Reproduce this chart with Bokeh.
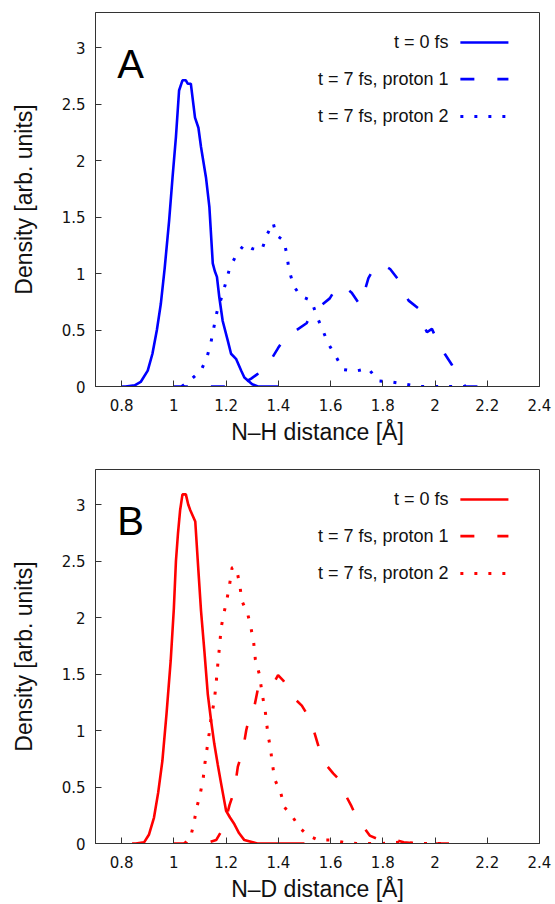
from bokeh.plotting import figure
from bokeh.models import Range1d, FixedTicker, CustomJSTickFormatter
from bokeh.layouts import column
from bokeh.core.properties import value
from bokeh.embed import file_html
from bokeh.resources import INLINE

# ---------------- data ----------------
x_ticks = [0.8, 1.0, 1.2, 1.4, 1.6, 1.8, 2.0, 2.2, 2.4]
x_tick_labels = ["0.8", "1", "1.2", "1.4", "1.6", "1.8", "2", "2.2", "2.4"]
y_ticks = [0, 0.5, 1, 1.5, 2, 2.5, 3]
y_tick_labels = ["0", "0.5", "1", "1.5", "2", "2.5", "3"]

series_labels = ["t = 0 fs", "t = 7 fs, proton 1", "t = 7 fs, proton 2"]

# Panel A: N-H
h0_x = [0.80, 0.815, 0.85, 0.873, 0.90, 0.918, 0.935, 0.95, 0.965, 0.982,
        0.995, 1.008, 1.02, 1.033, 1.046, 1.053, 1.065, 1.081, 1.094, 1.104,
        1.123, 1.136, 1.149, 1.157, 1.165, 1.174, 1.187, 1.206, 1.219, 1.238,
        1.258, 1.27, 1.30, 1.322, 1.36, 1.40]
h0_y = [0, 0, 0.01, 0.04, 0.14, 0.29, 0.50, 0.73, 1.05, 1.47,
        1.85, 2.21, 2.62, 2.71, 2.71, 2.68, 2.68, 2.38, 2.29, 2.12,
        1.85, 1.59, 1.09, 1.02, 0.97, 0.79, 0.58, 0.41, 0.29, 0.245,
        0.14, 0.08, 0.02, 0, 0, 0]

h1_x = [1.00, 1.065, 1.16, 1.22, 1.26, 1.296, 1.32, 1.347, 1.399, 1.431,
        1.47, 1.508, 1.533, 1.565, 1.597, 1.623, 1.65, 1.681, 1.713, 1.73,
        1.745, 1.77, 1.80, 1.828, 1.858, 1.88, 1.899, 1.937, 1.955, 1.969,
        1.988, 2.01, 2.037, 2.065, 2.09, 2.117, 2.174]
h1_y = [0, 0, 0, 0, 0.02, 0.07, 0.11, 0.14, 0.34, 0.45,
        0.50, 0.56, 0.66, 0.72, 0.78, 0.88, 0.89, 0.83, 0.72, 0.84,
        0.96, 1.06, 1.08, 1.04, 0.95, 0.84, 0.76, 0.69, 0.55, 0.48,
        0.51, 0.40, 0.29, 0.19, 0.07, 0, 0]

h2_x = [1.03, 1.06, 1.104, 1.127, 1.142, 1.153, 1.165, 1.183, 1.199, 1.214,
        1.236, 1.27, 1.30, 1.337, 1.356, 1.38, 1.392, 1.422, 1.433, 1.441,
        1.459, 1.485, 1.527, 1.546, 1.568, 1.591, 1.619, 1.649, 1.694, 1.745,
        1.781, 1.832, 1.888, 1.94, 2.0, 2.06, 2.12]
h2_y = [0, 0.05, 0.14, 0.26, 0.39, 0.52, 0.66, 0.79, 0.92, 1.05,
        1.15, 1.26, 1.22, 1.21, 1.34, 1.45, 1.34, 1.29, 1.16, 1.03,
        0.89, 0.80, 0.76, 0.63, 0.51, 0.38, 0.27, 0.15, 0.135, 0.16,
        0.05, 0.04, 0.02, 0, 0, 0, 0]

# Panel B: N-D
d0_x = [0.84, 0.854, 0.886, 0.905, 0.924, 0.94, 0.956, 0.972, 0.988, 1.0,
        1.008, 1.016, 1.024, 1.033, 1.046, 1.055, 1.063, 1.082, 1.093, 1.104,
        1.117, 1.13, 1.143, 1.155, 1.168, 1.181, 1.2, 1.215, 1.232, 1.25,
        1.27, 1.32, 1.40, 1.50]
d0_y = [0, 0, 0.01, 0.08, 0.23, 0.45, 0.73, 1.15, 1.62, 2.08,
        2.50, 2.75, 2.95, 3.09, 3.09, 3.00, 2.95, 2.85, 2.45, 2.06,
        1.70, 1.32, 1.08, 0.88, 0.70, 0.53, 0.29, 0.23, 0.17, 0.09,
        0.03, 0, 0, 0]

d1_x = [1.00, 1.065, 1.12, 1.162, 1.187, 1.20, 1.213, 1.232, 1.245, 1.264,
        1.277, 1.29, 1.309, 1.322, 1.35, 1.38, 1.399, 1.42, 1.437, 1.463,
        1.49, 1.514, 1.533, 1.559, 1.578, 1.61, 1.636, 1.655, 1.68, 1.694,
        1.719, 1.75, 1.79, 1.835, 1.88, 1.94, 1.98, 2.07]
d1_y = [0, 0, 0, 0.03, 0.13, 0.22, 0.34, 0.47, 0.68, 0.82,
        1.00, 1.13, 1.22, 1.37, 1.39, 1.41, 1.49, 1.44, 1.37, 1.28,
        1.22, 1.13, 1.02, 0.82, 0.71, 0.62, 0.56, 0.44, 0.33, 0.26,
        0.17, 0.07, 0.03, 0.04, 0.01, 0, 0, 0]

d2_x = [1.04, 1.062, 1.076, 1.087, 1.101, 1.112, 1.119, 1.127, 1.135, 1.142,
        1.153, 1.16, 1.165, 1.17, 1.176, 1.181, 1.191, 1.204, 1.214, 1.223,
        1.232, 1.241, 1.253, 1.26, 1.283, 1.296, 1.306, 1.312, 1.327, 1.34,
        1.35, 1.36, 1.37, 1.377, 1.386, 1.409, 1.424, 1.456, 1.486, 1.514,
        1.553, 1.604, 1.65, 1.70, 1.80, 1.86, 1.95, 2.05]
d2_y = [0, 0.04, 0.17, 0.31, 0.44, 0.57, 0.71, 0.84, 0.97, 1.10,
        1.24, 1.37, 1.50, 1.63, 1.77, 1.91, 2.03, 2.17, 2.30, 2.44,
        2.45, 2.42, 2.28, 2.15, 2.03, 1.90, 1.77, 1.63, 1.50, 1.30,
        1.17, 0.97, 0.84, 0.71, 0.57, 0.45, 0.32, 0.23, 0.13, 0.07,
        0.03, 0.03, 0.01, 0, 0, 0.01, 0, 0]

# ---------------- styling ----------------
DASHES = ["solid", "14 23", "3 11"]
WIDTHS = [2.6, 2.6, 3.0]
LEG_TEXT_X = 2.052
LEG_LINE_X = [2.097, 2.281]
LEG_Y = [3.045, 2.72, 2.39]

FMT_CODE = """
let best = 0;
for (let i = 0; i < tvals.length; i++) {
  if (Math.abs(tvals[i] - tick) < Math.abs(tvals[best] - tick)) best = i;
}
return tlabels[best];
"""


def make_panel(series, color, letter, xlabel, top, bottom):
    p = figure(frame_width=444, frame_height=374,
               x_range=Range1d(0.7, 2.4), y_range=Range1d(0, 3.31),
               output_backend="svg", toolbar_location=None,
               min_border_left=95, min_border_right=16,
               min_border_top=top, min_border_bottom=bottom)
    p.xgrid.visible = False
    p.ygrid.visible = False
    p.outline_line_color = "#333333"
    p.outline_line_width = 1
    p.background_fill_color = "white"
    p.border_fill_color = "white"

    for ax in (p.xaxis[0], p.yaxis[0]):
        ax.major_tick_in = 6
        ax.major_tick_out = 0
        ax.minor_tick_line_color = None
        ax.axis_line_color = "#333333"
        ax.major_tick_line_color = "#333333"
        ax.major_label_text_font = "DejaVu Sans"
        ax.major_label_text_font_size = "15px"
        ax.major_label_text_color = "#111111"
        ax.axis_label_text_font = "Liberation Sans"
        ax.axis_label_text_font_style = "normal"
        ax.axis_label_text_font_size = "23px"
        ax.axis_label_text_color = "#111111"

    p.xaxis[0].ticker = FixedTicker(ticks=x_ticks)
    p.xaxis[0].formatter = CustomJSTickFormatter(
        args=dict(tvals=x_ticks, tlabels=x_tick_labels), code=FMT_CODE)
    p.yaxis[0].ticker = FixedTicker(ticks=y_ticks)
    p.yaxis[0].formatter = CustomJSTickFormatter(
        args=dict(tvals=y_ticks, tlabels=y_tick_labels), code=FMT_CODE)
    p.xaxis[0].axis_label = xlabel
    p.yaxis[0].axis_label = "Density [arb. units]"
    p.xaxis[0].major_label_standoff = 12
    p.xaxis[0].axis_label_standoff = 5
    p.yaxis[0].major_label_standoff = 10
    p.yaxis[0].axis_label_standoff = 22

    for (xs, ys), dash, w in zip(series, DASHES, WIDTHS):
        p.line(xs, ys, line_color=color, line_width=w, line_dash=dash)

    # legend (gnuplot style: text right-aligned, sample on the right)
    p.text(x=[LEG_TEXT_X] * 3, y=LEG_Y, text=series_labels,
           text_align="right", text_baseline="middle",
           text_font=value("Liberation Sans"), text_font_size="18px",
           text_color="#111111")
    for yy, dash, w in zip(LEG_Y, DASHES, WIDTHS):
        p.line(LEG_LINE_X, [yy, yy], line_color=color, line_width=w, line_dash=dash)

    p.text(x=[0.783], y=[2.856], text=[letter], text_align="left",
           text_baseline="alphabetic", text_font=value("Liberation Sans"),
           text_font_size="40px", text_color="#000000")
    return p


p1 = make_panel([(h0_x, h0_y), (h1_x, h1_y), (h2_x, h2_y)], "#0000ff", "A",
                "N\u2013H distance [\u00c5]", top=12, bottom=74)
p2 = make_panel([(d0_x, d0_y), (d1_x, d1_y), (d2_x, d2_y)], "#ff0000", "B",
                "N\u2013D distance [\u00c5]", top=9, bottom=61)

layout = column(p1, p2, spacing=0)
open("out.html", "w").write(file_html(layout, INLINE))
